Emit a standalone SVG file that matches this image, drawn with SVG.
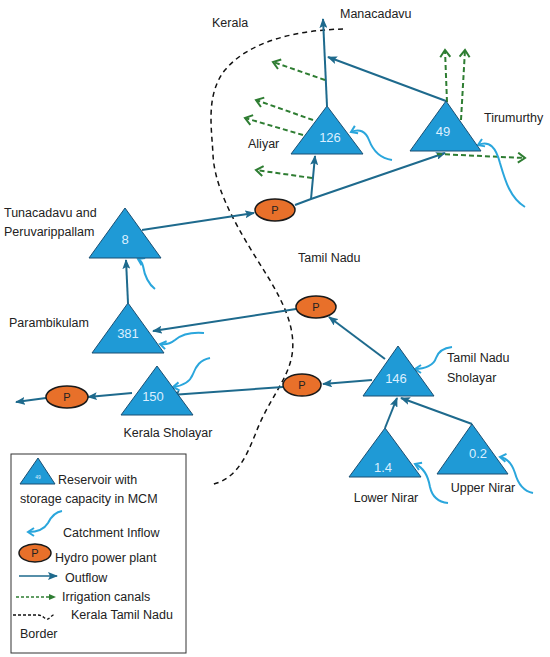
<svg xmlns="http://www.w3.org/2000/svg" width="550" height="657" viewBox="0 0 550 657">
<style>
.lbl{font-family:"Liberation Sans",Arial,sans-serif;font-size:12.5px;fill:#222}
.tri{fill:#1f9ad6;stroke:#1b4f72;stroke-width:1}
.num{font-family:"Liberation Sans",Arial,sans-serif;font-size:13px;fill:#dcefff;text-anchor:middle}
.pp{fill:#e8702a;stroke:#1a1a1a;stroke-width:1.5}
.ptxt{font-family:"Liberation Sans",Arial,sans-serif;font-size:11px;fill:#222;text-anchor:middle}
.out{stroke:#1e6a8d;stroke-width:2;fill:none;marker-end:url(#mo)}
.irr{stroke:#2e7d32;stroke-width:2;fill:none;stroke-dasharray:5,3;marker-end:url(#mi)}
.inf{stroke:#2aa6dc;stroke-width:2;fill:none;marker-end:url(#mf)}
.bord{stroke:#111;stroke-width:1.5;fill:none;stroke-dasharray:5,4}
</style>
<defs>
<marker id="mo" markerUnits="userSpaceOnUse" markerWidth="10" markerHeight="8" refX="9" refY="4" orient="auto"><path d="M0,0 L10,4 L0,8 L2,4 z" fill="#1e6a8d"/></marker>
<marker id="mi" markerUnits="userSpaceOnUse" markerWidth="12" markerHeight="12" refX="9" refY="6" orient="auto"><path d="M2,1 L9,6 L2,11" fill="none" stroke="#2e7d32" stroke-width="2"/></marker>
<marker id="mf" markerUnits="userSpaceOnUse" markerWidth="10" markerHeight="10" refX="8" refY="5" orient="auto"><path d="M2,1 L8,5 L2,9" fill="none" stroke="#2aa6dc" stroke-width="2"/></marker>
</defs>
<rect width="550" height="657" fill="#fff"/>

<g id="border">
<path class="bord" d="M343,29 C300,30 250,40 225,70 C205,95 212,130 213,155 C215,195 245,240 268,277 C285,305 296,330 292,355 C288,380 268,400 255,435 C245,460 235,480 210,485"/>
</g>

<g id="connectors">
<path class="out" d="M327,106 L323,19"/>
<path class="out" d="M446,101 L328,57"/>
<path class="out" d="M142,230 L254,213"/>
<path class="out" d="M295,205 L311,199 L445,153"/>
<path class="out" d="M311,199 L315,156"/>
<path class="out" d="M128,303 L126,260"/>
<path class="out" d="M296,309 L153,331"/>
<path class="out" d="M385,359 L329,317"/>
<path class="out" d="M372,380 L323,384"/>
<path class="out" d="M283,387 L171,395"/>
<path class="out" d="M132,393 L88,397"/>
<path class="out" d="M46,398 L16,402"/>
<path class="out" d="M385,428 L397,398"/>
<path class="out" d="M472,424 L401,398"/>
<path class="irr" d="M325,80 L273,62"/>
<path class="irr" d="M313,120 L256,100"/>
<path class="irr" d="M303,135 L245,118"/>
<path class="irr" d="M312,178 L256,170"/>
<path class="irr" d="M447,102 L445,50"/>
<path class="irr" d="M461,120 L465,50"/>
<path class="irr" d="M437,154 L525,158"/>
<path class="inf" d="M392,160 C378,158 372,148 369,140 C366,132 360,128 351,132"/>
<path class="inf" d="M525,207 C510,198 505,180 500,163 C496,148 490,140 478,145"/>
<path class="inf" d="M155,289 C146,282 144,272 143,266 C142,262 140,260 138,259"/>
<path class="inf" d="M204,333 C192,332 182,334 175,340 C170,344 165,345 160,344"/>
<path class="inf" d="M210,358 C200,360 196,366 193,374 C190,382 182,386 173,387"/>
<path class="inf" d="M452,347 C443,348 438,352 436,358 C434,365 425,369 415,369"/>
<path class="inf" d="M448,503 C438,502 432,496 430,487 C428,475 422,467 415,464"/>
<path class="inf" d="M533,493 C523,491 518,484 515,473 C512,464 507,458 500,457"/>
</g>

<g id="aliyar"><polygon class="tri" points="327,106 291,154 363,154"/><text class="num" x="330" y="142">126</text><text class="lbl" x="248" y="148">Aliyar</text></g>
<g id="tirumurthy"><polygon class="tri" points="446,101 410,151 481,151"/><text class="num" x="443" y="136">49</text><text class="lbl" x="484" y="122">Tirumurthy</text></g>
<g id="tunacadavu"><polygon class="tri" points="125,208 89,258 161,258"/><text class="num" x="125" y="244">8</text><text class="lbl" x="4" y="217">Tunacadavu and</text><text class="lbl" x="4" y="236">Peruvarippallam</text></g>
<g id="parambikulam"><polygon class="tri" points="128,303 92,353 164,353"/><text class="num" x="128" y="338">381</text><text class="lbl" x="9" y="327">Parambikulam</text></g>
<g id="kerala-sholayar"><polygon class="tri" points="157,366 121,415 193,415"/><text class="num" x="153" y="401">150</text><text class="lbl" x="168" y="437" text-anchor="middle">Kerala Sholayar</text></g>
<g id="tn-sholayar"><polygon class="tri" points="398,346 363,396 434,396"/><text class="num" x="396" y="383">146</text><text class="lbl" x="447" y="362">Tamil Nadu</text><text class="lbl" x="447" y="382">Sholayar</text></g>
<g id="lower-nirar"><polygon class="tri" points="385,428 349,477 421,477"/><text class="num" x="383" y="472">1.4</text><text class="lbl" x="386" y="502" text-anchor="middle">Lower Nirar</text></g>
<g id="upper-nirar"><polygon class="tri" points="472,424 437,474 508,474"/><text class="num" x="478" y="458">0.2</text><text class="lbl" x="483" y="492" text-anchor="middle">Upper Nirar</text></g>

<g id="p-top"><ellipse class="pp" cx="275" cy="210" rx="20" ry="11"/><text class="ptxt" x="275" y="214">P</text></g>
<g id="p-mid"><ellipse class="pp" cx="316" cy="307" rx="20" ry="11"/><text class="ptxt" x="316" y="311">P</text></g>
<g id="p-low"><ellipse class="pp" cx="302" cy="385" rx="19" ry="11"/><text class="ptxt" x="302" y="389">P</text></g>
<g id="p-left"><ellipse class="pp" cx="67" cy="397" rx="21" ry="11"/><text class="ptxt" x="67" y="401">P</text></g>

<g id="region-labels">
<text class="lbl" x="212" y="27">Kerala</text>
<text class="lbl" x="340" y="18">Manacadavu</text>
<text class="lbl" x="298" y="262">Tamil Nadu</text>
</g>

<g id="legend">
<rect x="11" y="454" width="175" height="199" fill="#fff" stroke="#333" stroke-width="1"/>
<polygon class="tri" points="38,458 20,484 55,484"/>
<text x="38" y="479" font-family="Liberation Sans,Arial,sans-serif" font-size="5" fill="#dcefff" text-anchor="middle">49</text>
<text class="lbl" x="58" y="484">Reservoir with</text>
<text class="lbl" x="20" y="503">storage capacity in MCM</text>
<path class="inf" d="M62,511 C55,512 51,517 48,523 C45,528 38,532 28,532"/>
<text class="lbl" x="63" y="537">Catchment Inflow</text>
<ellipse class="pp" cx="35" cy="553" rx="16" ry="9"/><text class="ptxt" x="35" y="557" font-size="9">P</text>
<text class="lbl" x="55" y="562">Hydro power plant</text>
<path d="M19,576 L57,576" stroke="#1e6a8d" stroke-width="1.5" fill="none" marker-end="url(#mo)"/>
<text class="lbl" x="65" y="582">Outflow</text>
<path d="M16,597 L50,597" stroke="#2e7d32" stroke-width="1.5" stroke-dasharray="3,2" fill="none"/>
<path d="M49,594 L56,597 L49,600 z" fill="#2e7d32"/>
<text class="lbl" x="62" y="601">Irrigation canals</text>
<path d="M13,615 L38,615 C43,615 45,620 48,619 C50,618 52,615 55,614" stroke="#111" stroke-width="1.3" stroke-dasharray="3,2" fill="none"/>
<text class="lbl" x="71" y="619">Kerala Tamil Nadu</text>
<text class="lbl" x="20" y="638">Border</text>
</g>
</svg>
